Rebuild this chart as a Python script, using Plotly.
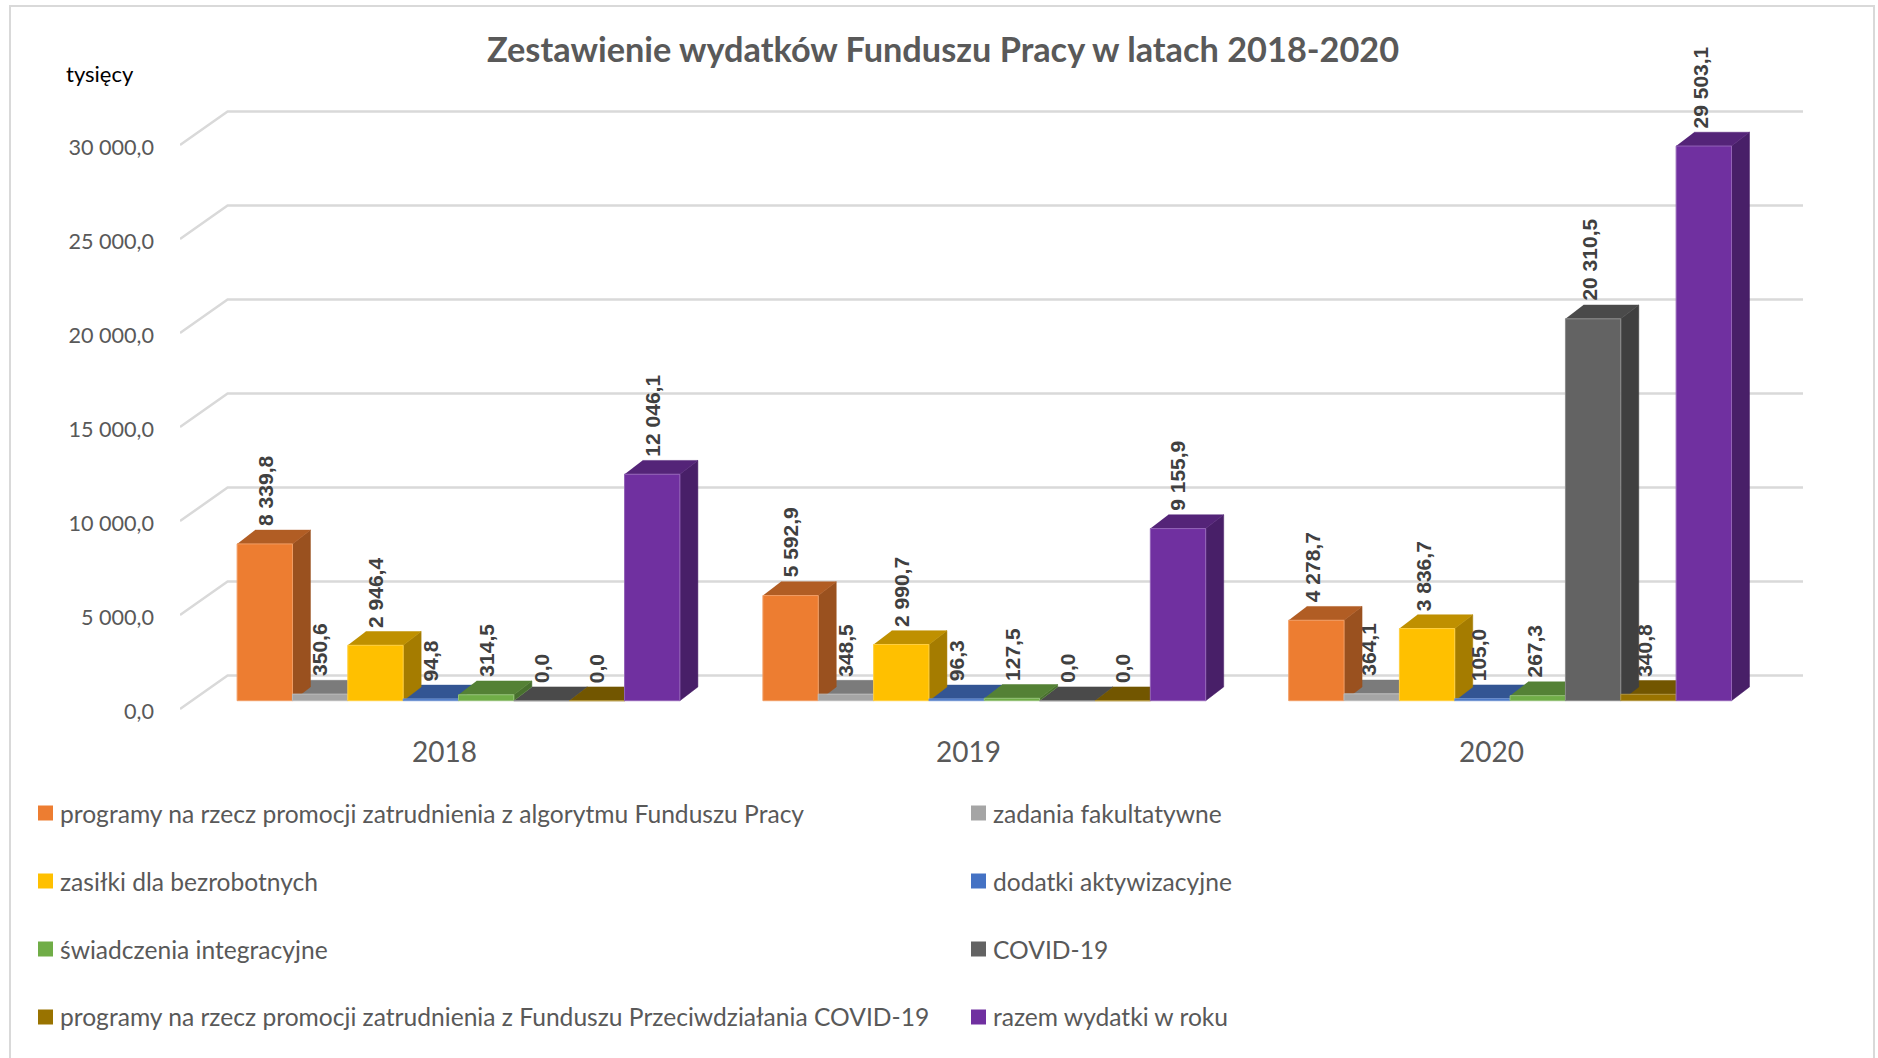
import plotly.graph_objects as go

# ---------- data ----------
years = ["2018", "2019", "2020"]
series_names = [
    "programy na rzecz promocji zatrudnienia z algorytmu Funduszu Pracy",
    "zadania fakultatywne",
    "zasiłki dla bezrobotnych",
    "dodatki aktywizacyjne",
    "świadczenia integracyjne",
    "COVID-19",
    "programy na rzecz promocji zatrudnienia z Funduszu Przeciwdziałania COVID-19",
    "razem wydatki w roku",
]
programy_fp = [8339.8, 5592.9, 4278.7]
zadania = [350.6, 348.5, 364.1]
zasilki = [2946.4, 2990.7, 3836.7]
dodatki = [94.8, 96.3, 105.0]
swiadczenia = [314.5, 127.5, 267.3]
covid = [0.0, 0.0, 20310.5]
programy_covid = [0.0, 0.0, 340.8]
razem = [12046.1, 9155.9, 29503.1]
all_series = [programy_fp, zadania, zasilki, dodatki, swiadczenia, covid, programy_covid, razem]
y_ticks = [0, 5000, 10000, 15000, 20000, 25000, 30000]
colors = ["#ED7D31", "#A5A5A5", "#FFC000", "#4472C4", "#70AD47", "#636363", "#997300", "#7030A0"]

# ---------- layout geometry ----------
W, H = 1878, 1058
L, R, T, B = 180, 75, 40, 328
PX_PER_GROUP = 525.8
PX_PER_VALUE = 94.0 / 5000
plot_w, plot_h = W - L - R, H - T - B
x_min = -(458.5 - L) / PX_PER_GROUP
x_max = x_min + plot_w / PX_PER_GROUP
y_min = -(T + plot_h - 700.7) / PX_PER_VALUE
y_max = y_min + plot_h / PX_PER_VALUE
GAP = 1.5 / 9.5
BAR_W = (1 - GAP) / 8
DEPTH_X = 18 / PX_PER_GROUP
DEPTH_Y = 13.8 / PX_PER_VALUE
FLOOR_FRONT_Y = -8.4 / PX_PER_VALUE
FLOOR_BACK_Y = 25.2 / PX_PER_VALUE
TICK_LABEL_Y = -10.8 / PX_PER_VALUE
WALL_X = x_min + 47.6 / PX_PER_GROUP
LABEL_FONT = "Liberation Sans"
TEXT_FONT = "Lato"
TEXT_COLOR = "#595959"


def px(v):
    return (v - L) / plot_w


def py(v):
    return 1 - (v - T) / plot_h


def shade(hex_color, k):
    r, g, b = (int(hex_color[i:i + 2], 16) for i in (1, 3, 5))
    return "#%02X%02X%02X" % (int(r * k), int(g * k), int(b * k))


def lighten(hex_color, k=0.25):
    r, g, b = (int(hex_color[i:i + 2], 16) for i in (1, 3, 5))
    return "#%02X%02X%02X" % tuple(int(c + (255 - c) * k) for c in (r, g, b))


fig = go.Figure()

# wall / floor gridlines
gx, gy = [], []
for v in y_ticks:
    gx += [x_min, WALL_X, x_max, None]
    gy += [v + FLOOR_FRONT_Y, v + FLOOR_BACK_Y, v + FLOOR_BACK_Y, None]
fig.add_trace(go.Scatter(x=gx, y=gy, mode="lines", line=dict(color="#D9D9D9", width=2.5),
                         hoverinfo="skip", showlegend=False))


# top and side faces, low bars first
def add_poly(xs, ys, color):
    fig.add_trace(go.Scatter(x=xs, y=ys, mode="lines", fill="toself", fillcolor=color,
                             line=dict(color=color, width=0.5), hoverinfo="skip", showlegend=False))


for g in range(len(years)):
    order = sorted(range(len(all_series)), key=lambda s: all_series[s][g])
    for s in order:
        v = all_series[s][g]
        left = g + (s - 3.5) * BAR_W - BAR_W / 2
        right = left + BAR_W
        add_poly([right, right + DEPTH_X, right + DEPTH_X, right],
                 [0, DEPTH_Y, v + DEPTH_Y, v], shade(colors[s], 0.65))
        add_poly([left, right, right + DEPTH_X, left + DEPTH_X],
                 [v, v, v + DEPTH_Y, v + DEPTH_Y], shade(colors[s], 0.75))

# front faces, on an overlaying axis pair so they cover the faces behind them
for s, vals in enumerate(all_series):
    fig.add_trace(go.Bar(x=list(range(len(years))), y=vals, name=series_names[s],
                         marker=dict(color=colors[s], line=dict(color=lighten(colors[s]), width=1)),
                         xaxis="x2", yaxis="y2", showlegend=False))

annotations = []
# value labels
for s, vals in enumerate(all_series):
    for g, v in enumerate(vals):
        txt = f"{v:,.1f}".replace(",", " ").replace(".", ",")
        annotations.append(dict(
            x=g + (s - 3.5) * BAR_W, y=v + DEPTH_Y, xref="x", yref="y", text=txt, textangle=-90,
            showarrow=False, xanchor="center", yanchor="bottom", yshift=2, xshift=-1.8 * max(g - 1, 0) * 2,
            font=dict(family=LABEL_FONT, size=21, color="#404040", weight="bold")))

# category labels
for g, name in enumerate(years):
    annotations.append(dict(x=g - 0.0265 - 0.0045 * g, y=py(751), xref="x", yref="paper", text=name,
                            showarrow=False, xanchor="center", yanchor="middle",
                            font=dict(family=TEXT_FONT, size=28, color=TEXT_COLOR)))

# title and unit
annotations.append(dict(x=px(943), y=py(48), xref="paper", yref="paper", showarrow=False,
                        text="<b>Zestawienie wydatków Funduszu Pracy w latach 2018-2020</b>",
                        xanchor="center", yanchor="middle",
                        font=dict(family=TEXT_FONT, size=34.3, color=TEXT_COLOR)))
annotations.append(dict(x=px(64), y=py(74), xref="paper", yref="paper", showarrow=False, text="tysięcy",
                        xanchor="left", yanchor="middle",
                        font=dict(family=TEXT_FONT, size=22, color="#000000")))

# legend: two columns, four rows
shapes = [dict(type="rect", xref="paper", yref="paper", x0=px(10), x1=px(1874), y0=py(1080), y1=py(6),
               line=dict(color="#D9D9D9", width=2), fillcolor="rgba(0,0,0,0)", layer="below")]
LEG_COL = [38, 971]
LEG_ROW = [813, 881, 949, 1017]
for s, name in enumerate(series_names):
    cx, cy = LEG_COL[s % 2], LEG_ROW[s // 2]
    shapes.append(dict(type="rect", xref="paper", yref="paper", x0=px(cx), x1=px(cx + 15),
                       y0=py(cy + 7.5), y1=py(cy - 7.5), fillcolor=colors[s], line=dict(width=0)))
    annotations.append(dict(x=px(cx + 20), y=py(cy), xref="paper", yref="paper", text=name, showarrow=False,
                            xanchor="left", yanchor="middle",
                            font=dict(family=TEXT_FONT, size=24.6, color=TEXT_COLOR)))

tick_text = [f"{v:,.1f}".replace(",", " ").replace(".", ",") for v in y_ticks]
fig.update_layout(
    width=W, height=H, margin=dict(l=L, r=R, t=T, b=B, autoexpand=False),
    paper_bgcolor="white", plot_bgcolor="white",
    barmode="group", bargap=GAP, bargroupgap=0,
    showlegend=False, annotations=annotations, shapes=shapes,
    xaxis=dict(range=[x_min, x_max], showgrid=False, zeroline=False, showticklabels=False, ticks=""),
    yaxis=dict(range=[y_min, y_max], tickvals=[v + TICK_LABEL_Y for v in y_ticks], ticktext=tick_text,
               showgrid=False, zeroline=False, showline=False, ticks="", ticklabelstandoff=25,
               tickfont=dict(family=TEXT_FONT, size=21.6, color=TEXT_COLOR)),
    xaxis2=dict(range=[x_min, x_max], overlaying="x", visible=False),
    yaxis2=dict(range=[y_min, y_max], overlaying="y", visible=False),
)

fig.write_html("out.html", config={"displayModeBar": False},
               post_script="document.body.style.margin='0';document.documentElement.style.overflow='hidden';")
